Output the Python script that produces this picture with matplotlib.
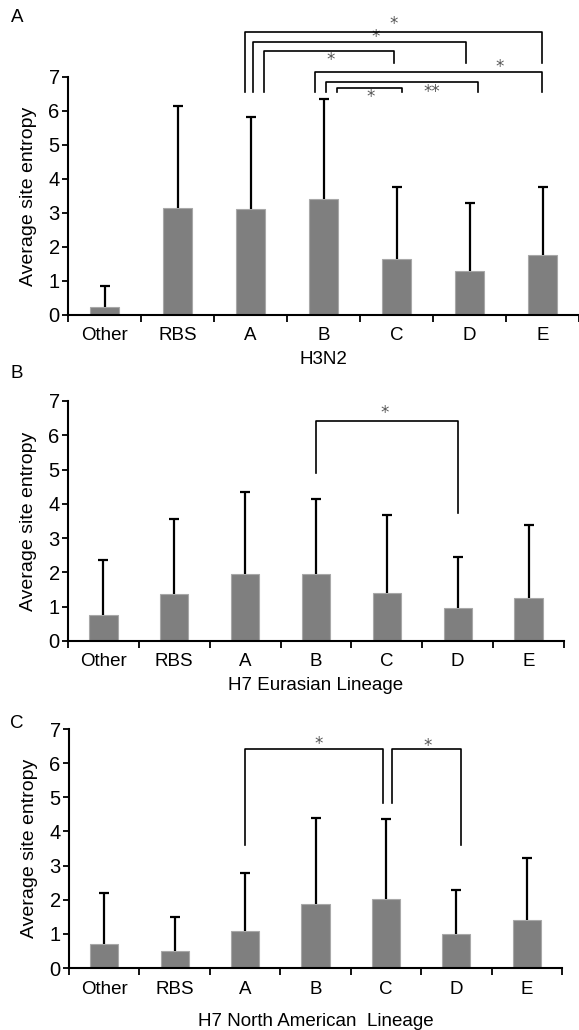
import numpy as np
import matplotlib.pyplot as plt
from matplotlib.ticker import FixedLocator, NullFormatter

plt.rcParams['font.family'] = ['Liberation Sans', 'DejaVu Sans']

categories = ['Other', 'RBS', 'A', 'B', 'C', 'D', 'E']

# средние значения и стандартные отклонения (только вверх)
h3n2_mean = [0.23, 3.16, 3.12, 3.40, 1.64, 1.30, 1.75]
h3n2_sd = [0.63, 2.99, 2.69, 2.94, 2.11, 2.00, 2.00]

eura_mean = [0.75, 1.37, 1.94, 1.94, 1.41, 0.96, 1.24]
eura_sd = [1.61, 2.19, 2.41, 2.20, 2.26, 1.48, 2.14]

nam_mean = [0.71, 0.51, 1.07, 1.86, 2.02, 1.00, 1.42]
nam_sd = [1.49, 0.98, 1.71, 2.53, 2.33, 1.29, 1.80]

# скобки значимости: x1, x2, верх, низ левой ноги, низ правой ноги, метка, x метки, y метки
h3n2_brackets = [
    (1.92, 5.99, 8.31, 6.56, 7.42, '*', 3.96, 8.56),
    (2.03, 4.95, 8.02, 6.56, 7.42, '*', 3.72, 8.17),
    (2.19, 3.96, 7.77, 6.56, 7.42, '*', 3.10, 7.50),
    (2.88, 5.99, 7.14, 6.57, 6.57, '*', 5.41, 7.30),
    (3.04, 5.11, 6.84, 6.57, 6.57, '**', 4.48, 6.57),
    (3.18, 4.07, 6.69, 6.57, 6.57, '*', 3.65, 6.42),
]
eura_brackets = [
    (3.0, 5.0, 6.41, 4.89, 3.74, '*', 3.97, 6.64),
]
nam_brackets = [
    (2.0, 3.96, 6.40, 3.59, 4.83, '*', 3.04, 6.57),
    (4.09, 5.06, 6.40, 4.83, 3.59, '*', 4.59, 6.51),
]

W, H = 579, 1030
fig = plt.figure(figsize=(W / 100, H / 100), dpi=100)


def panel(rect, mean, sd, brackets, xlabel, xlabelpad, letter, letter_y):
    ax = fig.add_axes(rect)
    x = np.arange(len(categories))
    ax.bar(x, mean, width=0.4, color='#7f7f7f', edgecolor='#a8a8a8', linewidth=0.8, zorder=2)
    _, caps, _ = ax.errorbar(x, mean, yerr=[np.zeros(len(sd)), sd], fmt='none', ecolor='black',
                             elinewidth=1.6, capsize=3.5, capthick=1.6, zorder=3)
    caps[0].set_visible(False)  # нижний "ус" не нужен
    ax.set_xlim(-0.5, len(categories) - 0.5)
    ax.set_ylim(0, 7)
    ax.set_yticks(range(8))
    ax.xaxis.set_major_locator(FixedLocator(np.arange(len(categories) + 1) - 0.5))
    ax.xaxis.set_major_formatter(NullFormatter())
    ax.xaxis.set_minor_locator(FixedLocator(x))
    ax.set_xticklabels(categories, minor=True)
    ax.tick_params(axis='x', which='major', direction='out', length=5, width=1.3)
    ax.tick_params(axis='x', which='minor', length=0, pad=9, labelsize=13.5)
    ax.tick_params(axis='y', direction='out', length=4, width=1.3, labelsize=14.5, pad=2)
    for s in ['top', 'right']:
        ax.spines[s].set_visible(False)
    for s in ['left', 'bottom']:
        ax.spines[s].set_linewidth(1.5)
    ax.set_ylabel('Average site entropy', fontsize=14, labelpad=8)
    ax.set_xlabel(xlabel, fontsize=13.5, labelpad=xlabelpad)

    for x1, x2, top, lb, rb, lab, lx, ly in brackets:
        ax.plot([x1, x1, x2, x2], [lb, top, top, rb], color='black', lw=1.2,
                clip_on=False, zorder=4)
        ax.text(lx, ly, lab, ha='center', va='center', fontsize=12, color='#555555',
                family='DejaVu Sans', clip_on=False)

    fig.text(17 / W, 1 - letter_y / H, letter, fontsize=13.5, ha='center', va='center')
    return ax


panel([68 / W, 1 - 315 / H, 511 / W, 238 / H], h3n2_mean, h3n2_sd, h3n2_brackets,
      'H3N2', 5, 'A', 18)
panel([68 / W, 1 - 641 / H, 496 / W, 240 / H], eura_mean, eura_sd, eura_brackets,
      'H7 Eurasian Lineage', 5, 'B', 373)
panel([69 / W, 1 - 968 / H, 493 / W, 239 / H], nam_mean, nam_sd, nam_brackets,
      'H7 North American  Lineage', 11, 'C', 723)

fig.savefig('out.png', dpi=100)
